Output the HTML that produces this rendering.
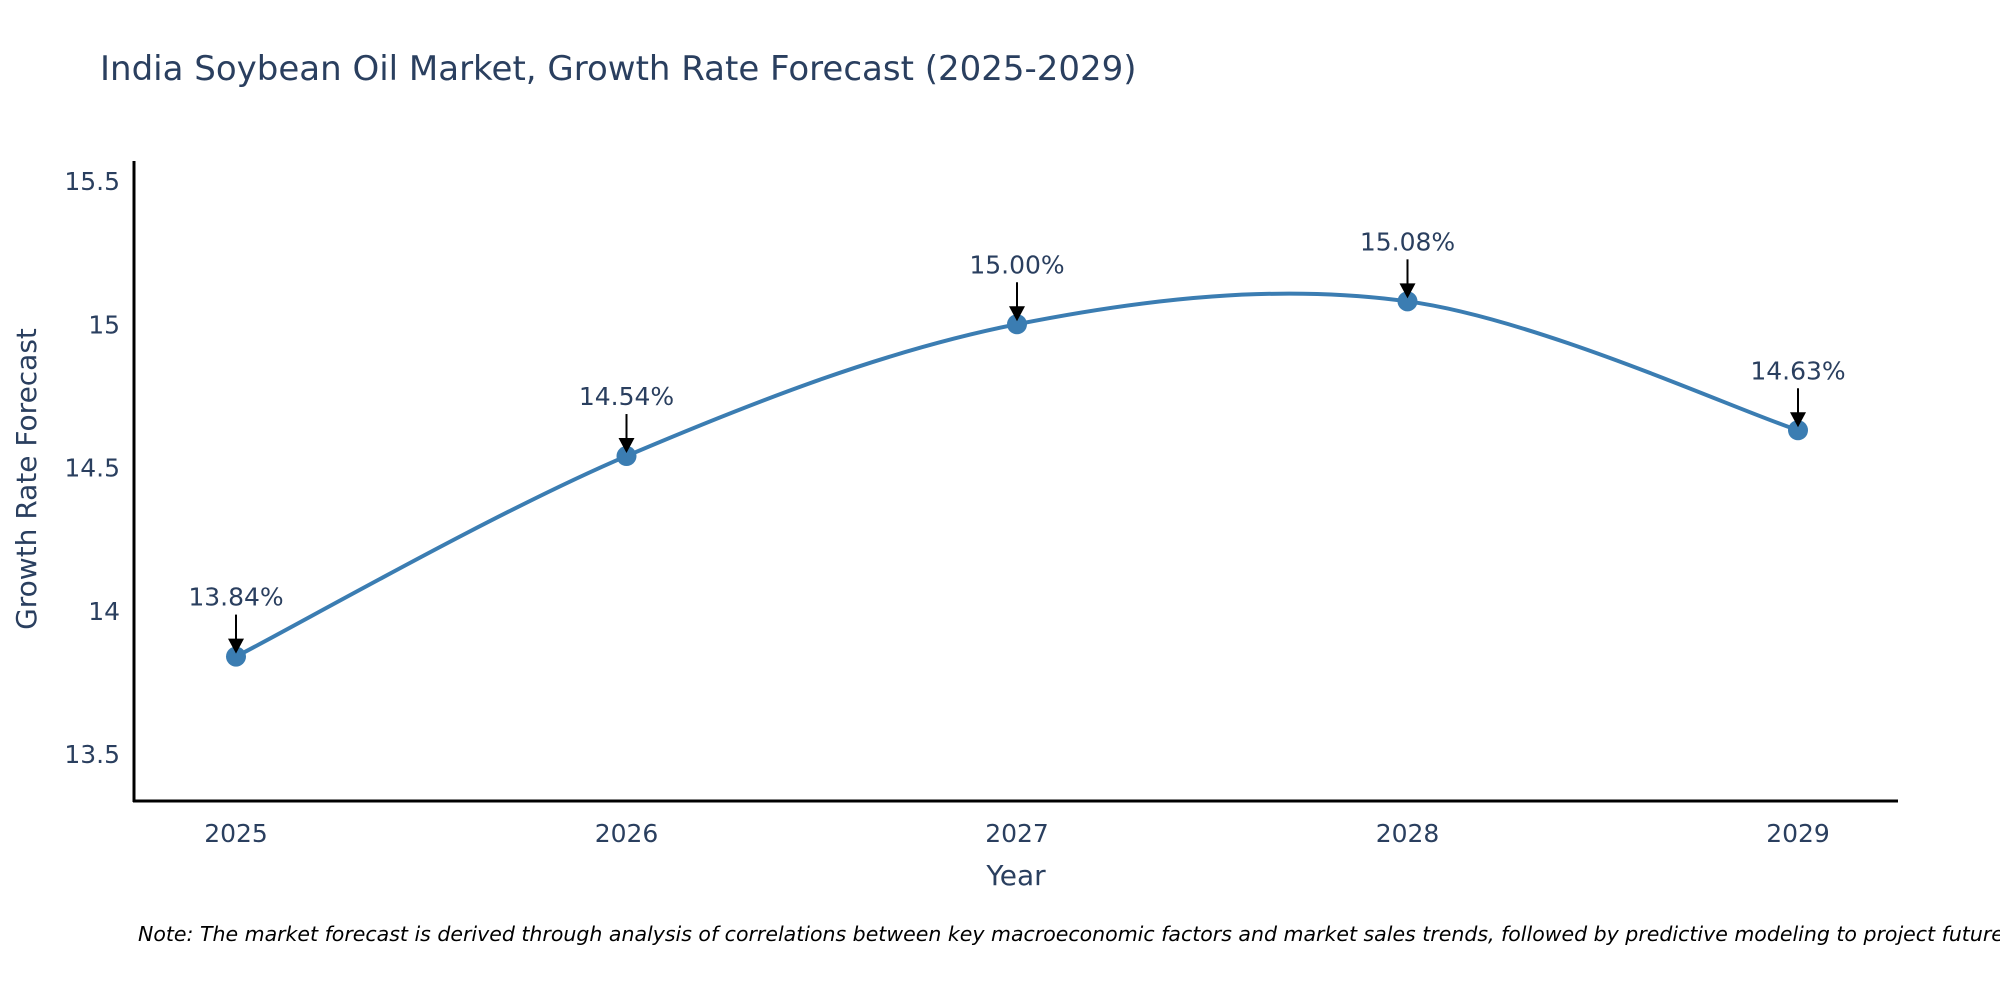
<!DOCTYPE html>
<html><head><meta charset="utf-8"><style>
body{margin:0;background:#fff;width:2000px;height:1000px;overflow:hidden}
svg text{font-family:"DejaVu Sans","Liberation Sans",sans-serif;fill:#2a3f5f}
</style></head><body>
<svg id="chart" width="2000" height="1000" xmlns="http://www.w3.org/2000/svg">
<text x="100" y="80" font-size="34">India Soybean Oil Market, Growth Rate Forecast (2025-2029)</text>
<g id="yticks"></g>
<g id="xticks"></g>
<line x1="134" y1="161" x2="134" y2="802" stroke="#000" stroke-width="3"/>
<line x1="133" y1="801" x2="1898" y2="801" stroke="#000" stroke-width="3"/>
<path id="line" fill="none" stroke="#3b7db2" stroke-width="4"/>
<g id="marks"></g>
<text x="1016" y="885" font-size="28" text-anchor="middle">Year</text>
<text transform="translate(36,479) rotate(-90)" font-size="28" text-anchor="middle">Growth Rate Forecast</text>
<text x="138" y="941" font-size="20.5" font-style="italic" style="fill:#000">Note: The market forecast is derived through analysis of correlations between key macroeconomic factors and market sales trends, followed by predictive modeling to project future sales.</text>
</svg>
<script>
const years=[2025,2026,2027,2028,2029];
const values=[13.84,14.54,15.00,15.08,14.63];
const labels=["13.84%","14.54%","15.00%","15.08%","14.63%"];
const yTicks=[13.5,14,14.5,15,15.5];
const yTickLabels=["13.5","14","14.5","15","15.5"];
const NS="http://www.w3.org/2000/svg";
function X(v){return 236+(v-2025)*390.5;}
function Y(v){return 181+(15.5-v)*286.5;}
function mk(t,a,p){const e=document.createElementNS(NS,t);for(const k in a)e.setAttribute(k,a[k]);p.appendChild(e);return e;}
const yg=document.getElementById('yticks'),xg=document.getElementById('xticks'),mg=document.getElementById('marks');
yTicks.forEach((t,i)=>{const e=mk('text',{x:120,y:Y(t)+9,'font-size':25,'text-anchor':'end'},yg);e.textContent=yTickLabels[i];

});
years.forEach(y=>{const e=mk('text',{x:X(y),y:842,'font-size':25,'text-anchor':'middle'},xg);e.textContent=String(y);

});
const P=years.map((y,i)=>[X(y),Y(values[i])]);
let d='M'+P[0][0]+','+P[0][1];const s=1/6;
for(let i=0;i<P.length-1;i++){const p0=P[Math.max(i-1,0)],p1=P[i],p2=P[i+1],p3=P[Math.min(i+2,P.length-1)];
d+=' C'+(p1[0]+(p2[0]-p0[0])*s)+','+(p1[1]+(p2[1]-p0[1])*s)+' '+(p2[0]-(p3[0]-p1[0])*s)+','+(p2[1]-(p3[1]-p1[1])*s)+' '+p2[0]+','+p2[1];}
document.getElementById('line').setAttribute('d',d);
P.forEach((p,i)=>{const c=mk('circle',{cx:p[0],cy:p[1],r:10,fill:'#3b7db2'},mg);


const a=mk('line',{x1:p[0],y1:p[1]-42,x2:p[0],y2:p[1]-16,stroke:'#000','stroke-width':2},mg);


const h=mk('polygon',{points:(p[0]-8)+','+(p[1]-18)+' '+(p[0]+8)+','+(p[1]-18)+' '+p[0]+','+(p[1]-3),fill:'#000'},mg);


const t=mk('text',{x:p[0],y:p[1]-51,'font-size':25,'text-anchor':'middle'},mg);t.textContent=labels[i];

});
</script>
</body></html>
